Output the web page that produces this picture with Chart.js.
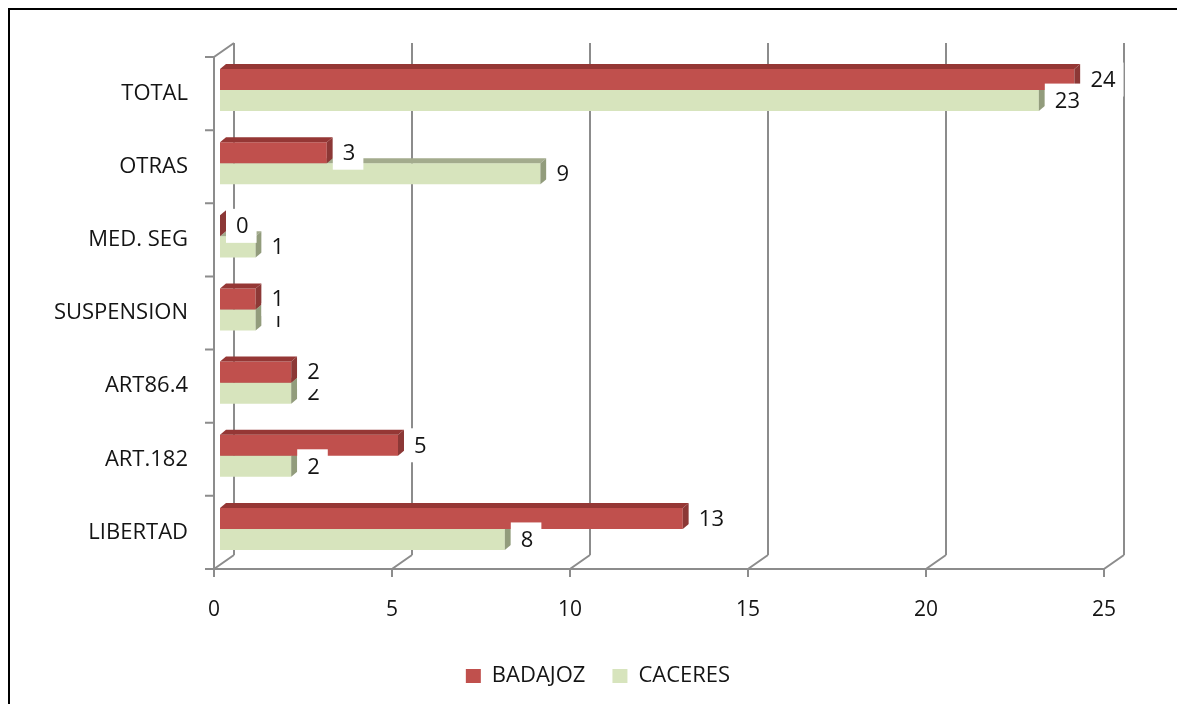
<!DOCTYPE html>
<html>
<head>
<meta charset="utf-8">
<script src="https://cdn.jsdelivr.net/npm/chart.js@4"></script>
<style>
	html, body { margin: 0; padding: 0; background: #fff; overflow: hidden; }
	#frame { position: absolute; left: 8px; top: 8px; width: 1200px; height: 720px; border-left: 2px solid #000; border-top: 2px solid #000; }
	#chart { position: absolute; left: 0; top: 0; }
</style>
</head>
<body>
<div id="frame"></div>
<canvas id="chart" width="1177" height="704"></canvas>
<script>
var categories = ['TOTAL', 'OTRAS', 'MED. SEG', 'SUSPENSION', 'ART86.4', 'ART.182', 'LIBERTAD'];
var badajoz = [24, 3, 0, 1, 2, 5, 13];
var caceres = [23, 9, 1, 1, 2, 2, 8];
var xTicks = [0, 5, 10, 15, 20, 25];

var depth = {dx: 6, dy: -5};     // bar depth
var front = {dx: -6, dy: 3.5};   // front plane vs bar plane
var back = {dx: 14, dy: -10.5};  // back wall vs bar plane
var faces = [
	{top: '#953735', side: '#8c3836'},
	{top: '#a3ab8d', side: '#929c7c'}
];

// walls, floor and axis lines of the 3d box
var walls = {
	id: 'walls',
	beforeDatasetsDraw(chart) {
		var ctx = chart.ctx;
		var a = chart.chartArea;
		var xs = chart.scales.x;
		ctx.save();
		ctx.strokeStyle = '#8c8c8c';
		ctx.lineWidth = 2;
		ctx.beginPath();
		xTicks.forEach(v => {
			var px = xs.getPixelForValue(v);
			ctx.moveTo(px + back.dx, a.top + back.dy);
			ctx.lineTo(px + back.dx, a.bottom + back.dy);
			ctx.moveTo(px + front.dx, a.bottom + front.dy + 8);
			ctx.lineTo(px + front.dx, a.bottom + front.dy);
			ctx.lineTo(px + back.dx, a.bottom + back.dy);
		});
		ctx.moveTo(a.left + front.dx, a.bottom + front.dy);
		ctx.lineTo(xs.getPixelForValue(25) + front.dx, a.bottom + front.dy);
		ctx.moveTo(a.left + back.dx, a.top + back.dy);
		ctx.lineTo(a.left + front.dx, a.top + front.dy);
		ctx.lineTo(a.left + front.dx, a.bottom + front.dy);
		var band = (a.bottom - a.top) / categories.length;
		for (var i = 0; i <= categories.length; i++) {
			var y = a.top + i * band + front.dy;
			ctx.moveTo(a.left + front.dx - 9, y);
			ctx.lineTo(a.left + front.dx, y);
		}
		ctx.stroke();
		ctx.restore();
	},
	afterDatasetDraw(chart, args) {
		var ctx = chart.ctx;
		var f = faces[args.index];
		ctx.save();
		args.meta.data.forEach(bar => {
			var t = bar.y - bar.height / 2;
			var b = bar.y + bar.height / 2;
			ctx.fillStyle = f.top;
			ctx.beginPath();
			ctx.moveTo(bar.base, t);
			ctx.lineTo(bar.x, t);
			ctx.lineTo(bar.x + depth.dx, t + depth.dy);
			ctx.lineTo(bar.base + depth.dx, t + depth.dy);
			ctx.closePath();
			ctx.fill();
			ctx.fillStyle = f.side;
			ctx.beginPath();
			ctx.moveTo(bar.x, t);
			ctx.lineTo(bar.x + depth.dx, t + depth.dy);
			ctx.lineTo(bar.x + depth.dx, b + depth.dy);
			ctx.lineTo(bar.x, b);
			ctx.closePath();
			ctx.fill();
		});
		ctx.restore();
	}
};

// value labels on white boxes
var valueLabels = {
	id: 'valueLabels',
	afterDatasetsDraw(chart) {
		var ctx = chart.ctx;
		ctx.save();
		ctx.font = '22px "Open Sans"';
		ctx.textBaseline = 'middle';
		[1, 0].forEach(di => {
			var ds = chart.data.datasets[di];
			chart.getDatasetMeta(di).data.forEach((bar, i) => {
				var txt = String(ds.data[i]);
				var w = ctx.measureText(txt).width;
				var left = bar.x + depth.dx;
				ctx.fillStyle = '#fff';
				ctx.fillRect(left, bar.y - 17, w + 18, 34);
				ctx.fillStyle = '#141414';
				ctx.fillText(txt, left + 10, bar.y + 1);
			});
		});
		ctx.restore();
	}
};

// legend sits a little right of the canvas centre
var legendShift = {
	id: 'legendShift',
	afterLayout(chart) {
		chart.legend.left += 23;
		chart.legend.right += 23;
	}
};

Chart.defaults.font.family = '"Open Sans", sans-serif';
Chart.defaults.color = '#141414';

new Chart(document.getElementById('chart'), {
	type: 'bar',
	data: {
		labels: categories,
		datasets: [{
			label: 'BADAJOZ',
			data: badajoz,
			backgroundColor: '#c0504d',
			borderWidth: 0,
			categoryPercentage: 0.575,
			barPercentage: 1
		}, {
			label: 'CACERES',
			data: caceres,
			backgroundColor: '#d7e4bd',
			borderWidth: 0,
			categoryPercentage: 0.575,
			barPercentage: 1
		}]
	},
	options: {
		indexAxis: 'y',
		responsive: false,
		animation: false,
		devicePixelRatio: 1,
		layout: {padding: {left: 40, right: 67, top: 53.5, bottom: 7}},
		scales: {
			x: {
				min: 0,
				max: 25,
				ticks: {stepSize: 5, font: {size: 21}, padding: 32, labelOffset: front.dx},
				grid: {display: false, drawTicks: false},
				border: {display: false},
				afterFit: s => { s.height = 72.5; }
			},
			y: {
				ticks: {font: {size: 22}, padding: 32, labelOffset: front.dy},
				grid: {display: false, drawTicks: false},
				border: {display: false},
				afterFit: s => { s.width = 180; }
			}
		},
		plugins: {
			legend: {
				position: 'bottom',
				labels: {boxWidth: 15, boxHeight: 14, padding: 27, font: {size: 22}}
			},
			tooltip: {enabled: false}
		}
	},
	plugins: [walls, valueLabels, legendShift]
});
</script>
</body>
</html>
